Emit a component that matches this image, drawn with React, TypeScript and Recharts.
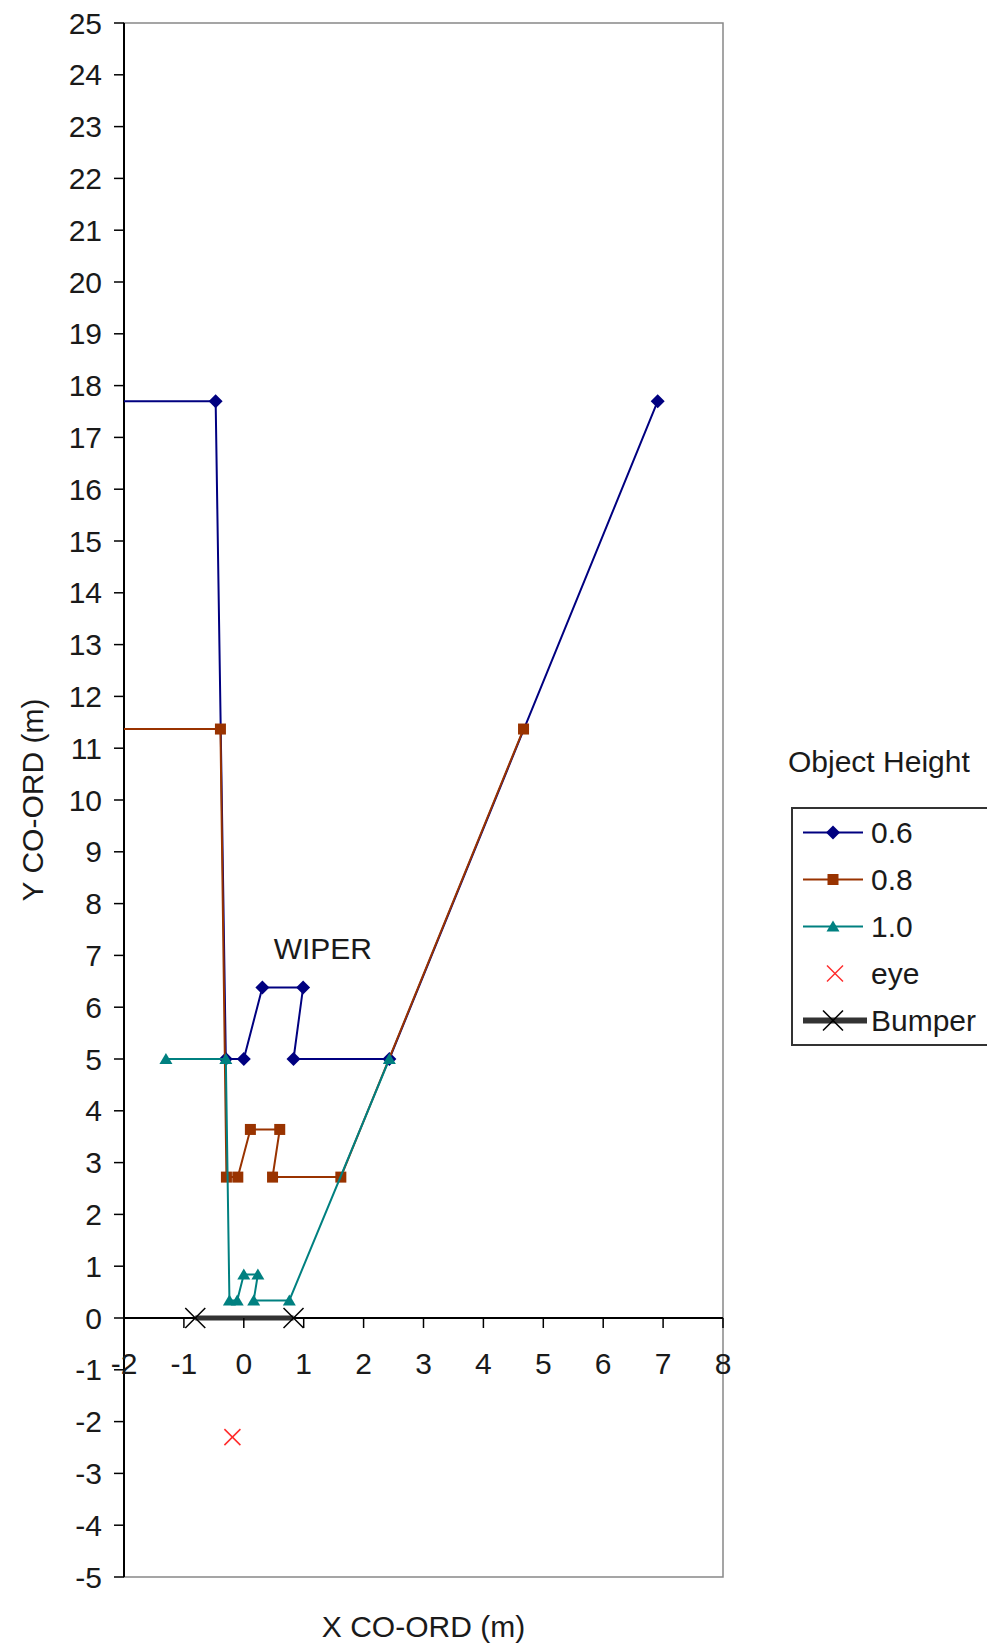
import React from 'react';
import {
    ScatterChart, Scatter, XAxis, YAxis, ReferenceLine, ReferenceArea, ReferenceDot,
    Legend, Label
} from 'recharts';

const FONT = '"Liberation Sans", Arial, sans-serif';
const TEXT = '#1a1a1a';

// axis ticks
const X_TICKS = [-2, -1, 0, 1, 2, 3, 4, 5, 6, 7, 8];
const Y_TICKS = [-5, -4, -3, -2, -1, 0, 1, 2, 3, 4, 5, 6, 7, 8, 9, 10, 11, 12, 13, 14, 15, 16, 17, 18, 19, 20, 21, 22, 23, 24, 25];
const X_MIN = -2, X_MAX = 8, Y_MIN = -5, Y_MAX = 25;

// sight lines for each object height (metres)
const H06 = [
    { x: -2.2, y: 17.7 }, { x: -0.47, y: 17.7 }, { x: -0.3, y: 5.0 }, { x: 0.0, y: 5.0 },
    { x: 0.31, y: 6.38 }, { x: 0.99, y: 6.38 }, { x: 0.83, y: 5.0 }, { x: 2.43, y: 5.0 },
    { x: 6.91, y: 17.7 },
];
const H08 = [
    { x: -2.2, y: 11.37 }, { x: -0.39, y: 11.37 }, { x: -0.29, y: 2.72 }, { x: -0.1, y: 2.72 },
    { x: 0.11, y: 3.64 }, { x: 0.6, y: 3.64 }, { x: 0.48, y: 2.72 }, { x: 1.62, y: 2.72 },
    { x: 4.67, y: 11.37 },
];
const H10 = [
    { x: -1.3, y: 5.0 }, { x: -0.3, y: 5.0 }, { x: -0.24, y: 0.34 }, { x: -0.11, y: 0.34 },
    { x: 0.0, y: 0.84 }, { x: 0.235, y: 0.84 }, { x: 0.165, y: 0.34 }, { x: 0.76, y: 0.34 },
    { x: 2.43, y: 5.0 },
];
const EYE = [{ x: -0.19, y: -2.3 }];
const BUMPER = [{ x: -0.81, y: 0 }, { x: 0.83, y: 0 }];
const WIPER = { x: 1.32, y: 7.14 };

// layout
const CHART_W = 987;
const CHART_H = 1648;
const MARGIN = { top: 23, right: 264, bottom: 0, left: 0 };
const Y_AXIS_W = 124;
const X_AXIS_H = 71;
const PLOT_H = CHART_H - MARGIN.top - MARGIN.bottom - X_AXIS_H;
const ZERO_Y = MARGIN.top + PLOT_H * (Y_MAX - 0) / (Y_MAX - Y_MIN); // where the x axis crosses

type Kind = 'diamond' | 'square' | 'triangle' | 'x' | 'bigx';

const SERIES: { name: string; data: { x: number; y: number }[]; color: string; kind: Kind; line: number; lineColor: string }[] = [
    { name: '0.6', data: H06, color: '#000080', kind: 'diamond', line: 2, lineColor: '#000080' },
    { name: '0.8', data: H08, color: '#993300', kind: 'square', line: 2, lineColor: '#993300' },
    { name: '1.0', data: H10, color: '#008080', kind: 'triangle', line: 2, lineColor: '#008080' },
    { name: 'eye', data: EYE, color: '#ff2a2a', kind: 'x', line: 0, lineColor: 'none' },
    { name: 'Bumper', data: BUMPER, color: '#000', kind: 'bigx', line: 5, lineColor: '#333' },
];

const Marker = ({ kind, cx, cy, color }: { kind: Kind; cx: number; cy: number; color: string }) => {
    if (typeof cx !== 'number' || typeof cy !== 'number') return <g />;
    switch (kind) {
        case 'diamond':
            return <polygon points={`${cx},${cy - 7} ${cx + 7},${cy} ${cx},${cy + 7} ${cx - 7},${cy}`} fill={color} />;
        case 'square':
            return <rect x={cx - 5.5} y={cy - 5.5} width={11} height={11} fill={color} />;
        case 'triangle':
            return <polygon points={`${cx},${cy - 6} ${cx + 6.5},${cy + 5} ${cx - 6.5},${cy + 5}`} fill={color} />;
        case 'x': {
            const s = 8;
            return (
                <g stroke={color} strokeWidth={1.5}>
                    <line x1={cx - s} y1={cy - s} x2={cx + s} y2={cy + s} />
                    <line x1={cx - s} y1={cy + s} x2={cx + s} y2={cy - s} />
                </g>
            );
        }
        default: {
            const s = 10;
            return (
                <g stroke={color} strokeWidth={1.5}>
                    <line x1={cx - s} y1={cy - s} x2={cx + s} y2={cy + s} />
                    <line x1={cx - s} y1={cy + s} x2={cx + s} y2={cy - s} />
                </g>
            );
        }
    }
};

// x axis sits at y = 0, so ticks are drawn up there instead of the plot bottom
const XTick = (props: any) => {
    const { x, payload } = props;
    return (
        <g>
            <line x1={x} x2={x} y1={ZERO_Y} y2={ZERO_Y + 10} stroke="#000" strokeWidth={1.5} />
            <text x={x} y={ZERO_Y + 45} textAnchor="middle" dominantBaseline="central"
                fontSize={30} fill={TEXT} fontFamily={FONT}>
                {payload.value}
            </text>
        </g>
    );
};

const renderLegend = (props: any) => {
    const names = ((props.payload || []) as any[]).map((it) => it.value);
    // keep series order (recharts sorts by name otherwise)
    const items = SERIES.filter((s) => names.includes(s.name));
    return (
        <div style={{ fontFamily: FONT, fontSize: 30, color: TEXT }}>
            <div style={{ height: 44, lineHeight: '44px', whiteSpace: 'nowrap' }}>Object Height</div>
            <div style={{ marginTop: 23, marginLeft: 3, width: 220, border: '2px solid #333', background: '#fff' }}>
                {items.map((s) => (
                    <div key={s.name} style={{ height: 47, display: 'flex', alignItems: 'center' }}>
                        <svg width={70} height={47} style={{ marginLeft: 8, flex: 'none' }}>
                            {s.line > 0 && (
                                <line x1={2} x2={s.kind === 'bigx' ? 66 : 62} y1={23.5} y2={23.5}
                                    stroke={s.lineColor} strokeWidth={s.kind === 'bigx' ? 6 : 2} />
                            )}
                            <Marker kind={s.kind} cx={s.kind === 'x' ? 34 : 32} cy={23.5} color={s.color} />
                        </svg>
                        <span style={{ lineHeight: '47px', whiteSpace: 'nowrap' }}>{s.name}</span>
                    </div>
                ))}
            </div>
        </div>
    );
};

export default function App() {
    return (
        <div style={{ position: 'absolute', left: 0, top: 0, width: CHART_W, height: CHART_H, overflow: 'hidden', background: '#fff' }}>
            <ScatterChart width={CHART_W} height={CHART_H} margin={MARGIN}>
                <ReferenceArea x1={X_MIN} x2={X_MAX} y1={Y_MIN} y2={Y_MAX} fill="none" stroke="#888" strokeWidth={1.5} />
                <XAxis
                    type="number"
                    dataKey="x"
                    domain={[X_MIN, X_MAX]}
                    ticks={X_TICKS}
                    interval={0}
                    allowDataOverflow
                    axisLine={false}
                    tickLine={false}
                    tick={<XTick />}
                    height={X_AXIS_H}
                >
                    <Label value="X CO-ORD (m)" position="insideBottom" offset={11} fontSize={30} fill={TEXT} fontFamily={FONT} />
                </XAxis>
                <YAxis
                    type="number"
                    dataKey="y"
                    domain={[Y_MIN, Y_MAX]}
                    ticks={Y_TICKS}
                    interval={0}
                    allowDataOverflow
                    width={Y_AXIS_W}
                    tickSize={10}
                    tickMargin={12}
                    axisLine={{ stroke: '#000', strokeWidth: 2 }}
                    tickLine={{ stroke: '#000', strokeWidth: 1.5 }}
                    tick={{ fontSize: 30, fill: TEXT, fontFamily: FONT }}
                >
                    <Label value="Y CO-ORD (m)" angle={-90} position="insideLeft" offset={32}
                        style={{ textAnchor: 'middle' }} fontSize={30} fill={TEXT} fontFamily={FONT} />
                </YAxis>
                <ReferenceLine y={0} stroke="#000" strokeWidth={2} />
                <ReferenceDot x={WIPER.x} y={WIPER.y} r={1} fill="none" stroke="none"
                    label={{ value: 'WIPER', position: 'center', fontSize: 30, fill: TEXT, fontFamily: FONT }} />
                {SERIES.map((s) => (
                    <Scatter
                        key={s.name}
                        name={s.name}
                        data={s.data}
                        fill={s.color}
                        isAnimationActive={false}
                        line={s.line > 0 ? { stroke: s.lineColor, strokeWidth: s.line } : false}
                        lineType="joint"
                        shape={(p: any) => <Marker kind={s.kind} cx={p.cx} cy={p.cy} color={s.color} />}
                    />
                ))}
                <Legend
                    layout="vertical"
                    align="center"
                    verticalAlign="middle"
                    content={renderLegend}
                    wrapperStyle={{ left: 788, top: 740, width: 240 }}
                />
            </ScatterChart>
        </div>
    );
}
